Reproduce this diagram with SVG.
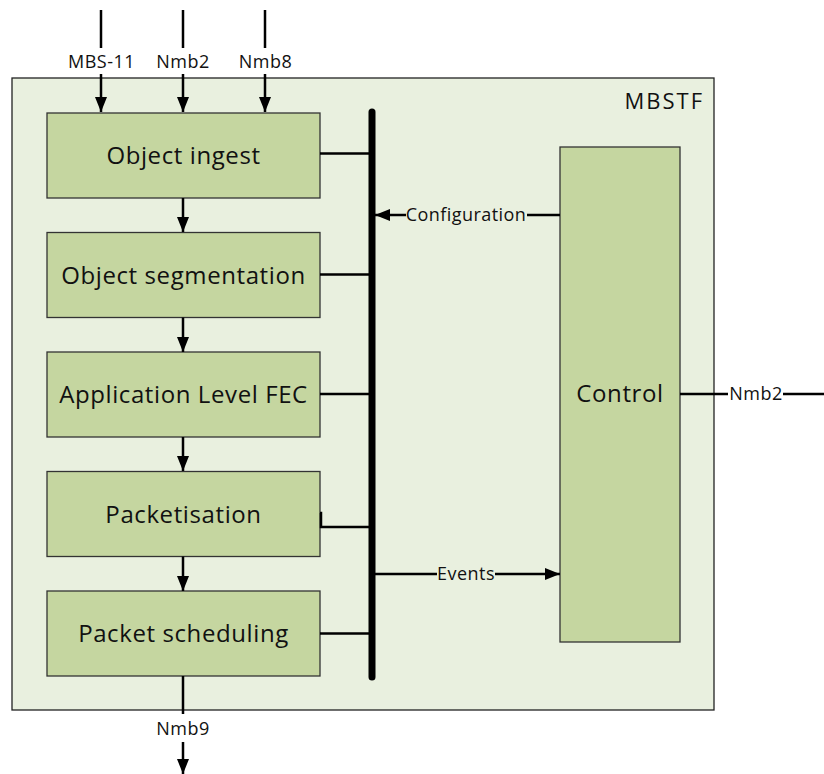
<svg xmlns="http://www.w3.org/2000/svg" width="824" height="774" viewBox="0 0 824 774">
<style>
.outer{fill:#E9F0DF;stroke:#222;stroke-width:1.3}
.blk{fill:#C5D6A0;stroke:#333;stroke-width:1.3}
.big{font-family:"Open Sans","Liberation Sans",sans-serif;font-size:24px;fill:#111;text-anchor:middle;letter-spacing:0.6px}
.sm{font-family:"Open Sans","Liberation Sans",sans-serif;font-size:18px;fill:#111;text-anchor:middle;letter-spacing:0.45px}
.ln{stroke:#000;stroke-width:2.5;fill:none}
.ar{stroke:#000;stroke-width:2.5;fill:none;marker-end:url(#ah)}
</style>
<defs>
<marker id="ah" markerUnits="userSpaceOnUse" markerWidth="16" markerHeight="12" refX="15" refY="6" orient="auto">
<path d="M0,0 L15,6 L0,12 z" fill="#000"/>
</marker>
</defs>
<g id="mbstf">
<rect class="outer" x="12" y="78" width="702" height="632"/>
<text x="704" y="109" style="font-family:'Open Sans','Liberation Sans',sans-serif;font-size:22px;fill:#111;text-anchor:end;letter-spacing:2px">MBSTF</text>
</g>
<g id="object-ingest">
<rect class="blk" x="47" y="113" width="273" height="85"/>
<text class="big" x="183.5" y="164">Object ingest</text>
</g>
<g id="object-segmentation">
<rect class="blk" x="47" y="232.5" width="273" height="85"/>
<text class="big" x="183.5" y="284">Object segmentation</text>
</g>
<g id="application-level-fec">
<rect class="blk" x="47" y="352" width="273" height="85"/>
<text class="big" x="183.5" y="403">Application Level FEC</text>
</g>
<g id="packetisation">
<rect class="blk" x="47" y="471.5" width="273" height="85"/>
<text class="big" x="183.5" y="523">Packetisation</text>
</g>
<g id="packet-scheduling">
<rect class="blk" x="47" y="591" width="273" height="85"/>
<text class="big" x="183.5" y="642">Packet scheduling</text>
</g>
<g id="control">
<rect class="blk" x="560" y="147" width="120" height="495"/>
<text class="big" x="620" y="402">Control</text>
</g>
<g id="bus">
<line x1="372" y1="112" x2="372" y2="677" stroke="#000" stroke-width="7" stroke-linecap="round"/>
</g>
<g id="connectors">
<line class="ln" x1="101" y1="10" x2="101" y2="48"/>
<line class="ar" x1="101" y1="74" x2="101" y2="112"/>
<text class="sm" x="101.5" y="68">MBS-11</text>
<line class="ln" x1="183" y1="10" x2="183" y2="48"/>
<line class="ar" x1="183" y1="74" x2="183" y2="112"/>
<text class="sm" x="183" y="68">Nmb2</text>
<line class="ln" x1="265" y1="10" x2="265" y2="48"/>
<line class="ar" x1="265" y1="74" x2="265" y2="112"/>
<text class="sm" x="265.5" y="68">Nmb8</text>
<line class="ar" x1="183" y1="198" x2="183" y2="232"/>
<line class="ar" x1="183" y1="317.5" x2="183" y2="352"/>
<line class="ar" x1="183" y1="437" x2="183" y2="471"/>
<line class="ar" x1="183" y1="556.5" x2="183" y2="591"/>
<line class="ln" x1="320" y1="153.5" x2="370" y2="153.5"/>
<line class="ln" x1="320" y1="274.5" x2="370" y2="274.5"/>
<line class="ln" x1="320" y1="394" x2="370" y2="394"/>
<polyline class="ln" points="320,513 321,513 321,527 370,527"/>
<line class="ln" x1="320" y1="633.5" x2="370" y2="633.5"/>
<line class="ln" x1="560" y1="215" x2="527" y2="215"/>
<line class="ar" x1="406" y1="215" x2="375" y2="215"/>
<text class="sm" x="466" y="221">Configuration</text>
<line class="ln" x1="375" y1="574" x2="437" y2="574"/>
<line class="ar" x1="495" y1="574" x2="560" y2="574"/>
<text class="sm" x="466" y="579.5">Events</text>
<line class="ln" x1="680" y1="394" x2="728" y2="394"/>
<line class="ln" x1="783" y1="394" x2="824" y2="394"/>
<text class="sm" x="756" y="400">Nmb2</text>
<line class="ln" x1="183" y1="676" x2="183" y2="714"/>
<line class="ar" x1="183" y1="742" x2="183" y2="774"/>
<text class="sm" x="183" y="735">Nmb9</text>
</g>
</svg>
